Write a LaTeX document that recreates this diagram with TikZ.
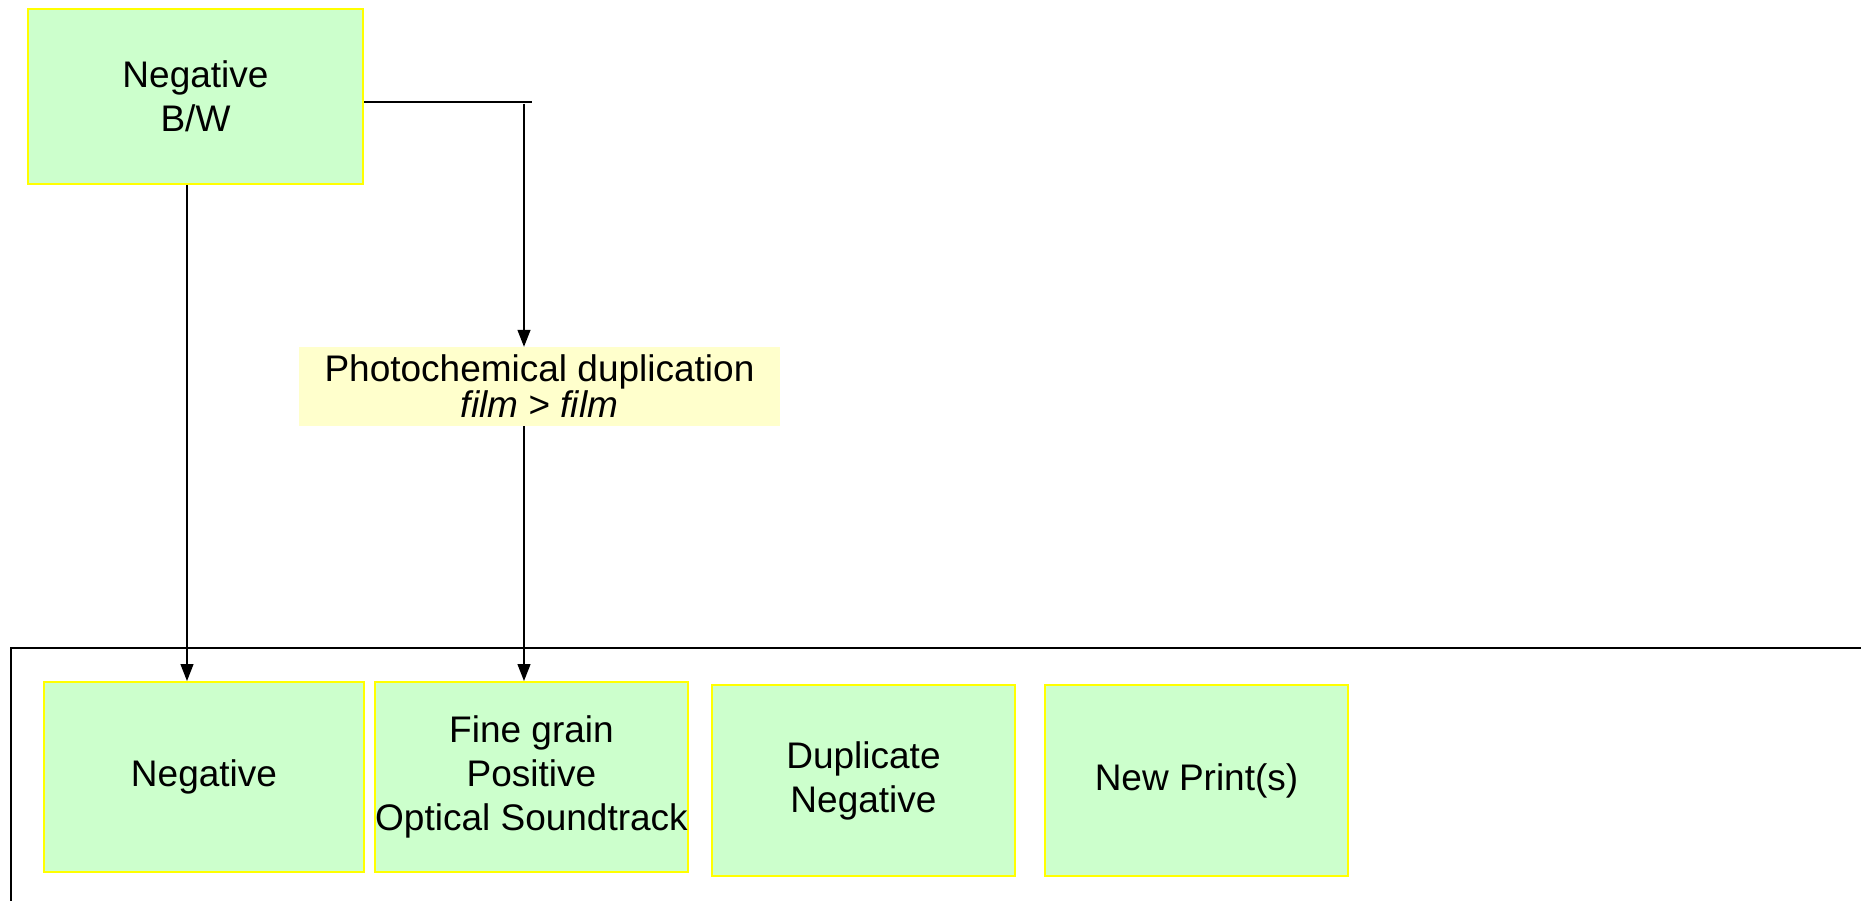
\documentclass[tikz,border=0pt]{standalone}
\usepackage{fontspec}
\setmainfont{Liberation Sans}
\usetikzlibrary{arrows.meta}
\definecolor{boxgreen}{RGB}{204,255,204}
\definecolor{boxyellow}{RGB}{255,255,0}
\definecolor{boxcream}{RGB}{255,255,204}
\begin{document}
\begin{tikzpicture}[x=1pt,y=-1pt,
  greenbox/.style={draw=boxyellow,line width=2pt,fill=boxgreen,rectangle,inner sep=0pt,
     align=center,font=\fontsize{37}{44}\selectfont},
  procbox/.style={fill=boxcream,rectangle,inner sep=0pt,align=center,
     font=\fontsize{37}{36}\selectfont},
  conn/.style={line width=1.3pt,black},
  arr/.style={conn,-{Triangle[length=17pt,width=13pt]}}]
\useasboundingbox (0,0) rectangle (1861,901);
\begin{scope}
\clip (0,0) rectangle (1861,901);
\coordinate (frTR) at (1870,648);
\coordinate (frTL) at (11,648);
\coordinate (frBL) at (11,910);
\draw[line width=1.4pt] (frTR) -- (frTL) -- (frBL);
\end{scope}
\node[greenbox,minimum width=335pt,minimum height=175pt] (top) at (195.5,96.5) {Negative\\B/W};
\node[procbox,minimum width=481pt,minimum height=79pt] (photo) at (539.5,386.5) {Photochemical duplication\\\textit{film} > \textit{film}};
\node[greenbox,minimum width=320pt,minimum height=190pt] (neg) at (204,777) {Negative};
\node[greenbox,minimum width=303pt,minimum height=190pt] (fine) at (531.5,777) {Fine grain\\Positive\\Optical Soundtrack};
\node[greenbox,minimum width=303pt,minimum height=191pt] (dup) at (863.5,780.5) {Duplicate\\Negative};
\node[greenbox,minimum width=303pt,minimum height=191pt] (newp) at (1196.5,780.5) {New Print(s)};
\coordinate (cL) at (187,0);
\coordinate (cR) at (524,0);
\coordinate (hY) at (0,102);
\coordinate (hEnd) at (532,102);
\coordinate (vStart) at (524,104);
\draw[conn] (top.east |- hY) -- (hEnd);
\draw[arr] (vStart) -- (photo.north -| cR);
\draw[arr] (top.south -| cL) -- (neg.north -| cL);
\draw[arr] (photo.south -| cR) -- (fine.north -| cR);
\end{tikzpicture}
\end{document}
